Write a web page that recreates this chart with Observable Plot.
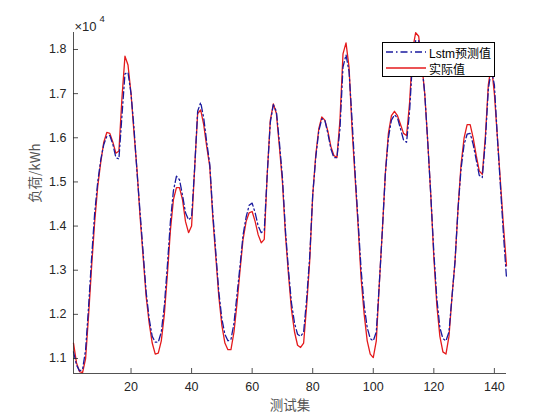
<!DOCTYPE html>
<html><head><meta charset="utf-8">
<script src="https://cdn.jsdelivr.net/npm/d3@7"></script>
<script src="https://cdn.jsdelivr.net/npm/@observablehq/plot@0.6"></script>
<style>
body{margin:0;background:#fff;}
#wrap{position:relative;width:560px;height:420px;}
#legend{position:absolute;left:382px;top:42px;width:111px;height:33px;border:1px solid #000;background:#fff;font-family:"Liberation Sans","Noto Sans CJK SC",sans-serif;font-size:12px;color:#000;white-space:nowrap;}
#legend .row{position:absolute;left:3px;height:16px;display:flex;align-items:center;white-space:nowrap;}
#legend svg{margin-right:3px;flex:none;}
</style></head>
<body><div id="wrap"><div id="legend"></div></div>
<script>
const seriesNames = ["Lstm预测值", "实际值"];
const actual = [
1.135,1.090,1.070,1.068,1.100,1.200,1.310,1.410,1.490,1.545,
1.590,1.612,1.610,1.590,1.565,1.570,1.690,1.785,1.765,1.700,
1.610,1.525,1.420,1.330,1.240,1.180,1.135,1.110,1.112,1.140,
1.200,1.290,1.390,1.460,1.487,1.487,1.460,1.410,1.385,1.400,
1.530,1.655,1.663,1.630,1.580,1.535,1.420,1.330,1.240,1.175,
1.135,1.120,1.120,1.160,1.225,1.300,1.370,1.410,1.430,1.433,
1.410,1.380,1.362,1.370,1.520,1.640,1.677,1.655,1.580,1.500,
1.380,1.290,1.210,1.160,1.130,1.125,1.135,1.220,1.320,1.470,
1.560,1.620,1.647,1.640,1.615,1.580,1.560,1.555,1.640,1.790,
1.815,1.760,1.620,1.510,1.400,1.280,1.200,1.140,1.110,1.102,
1.140,1.270,1.390,1.520,1.610,1.650,1.660,1.650,1.630,1.610,
1.605,1.680,1.800,1.838,1.830,1.770,1.700,1.590,1.470,1.330,
1.220,1.150,1.115,1.110,1.150,1.240,1.320,1.440,1.540,1.600,
1.630,1.630,1.600,1.560,1.525,1.517,1.600,1.720,1.765,1.700,
1.600,1.500,1.400,1.310
];
const predicted = [
1.115,1.085,1.072,1.075,1.120,1.220,1.330,1.430,1.500,1.550,
1.585,1.603,1.605,1.585,1.555,1.552,1.650,1.745,1.748,1.700,
1.620,1.520,1.430,1.340,1.250,1.190,1.150,1.137,1.137,1.160,
1.220,1.310,1.410,1.480,1.513,1.505,1.470,1.430,1.414,1.420,
1.530,1.660,1.680,1.645,1.590,1.540,1.430,1.340,1.250,1.190,
1.155,1.140,1.143,1.180,1.245,1.310,1.380,1.420,1.447,1.452,
1.430,1.400,1.385,1.390,1.520,1.635,1.675,1.660,1.590,1.510,
1.390,1.300,1.225,1.180,1.155,1.150,1.160,1.235,1.330,1.470,
1.555,1.615,1.643,1.640,1.610,1.575,1.555,1.555,1.620,1.760,
1.788,1.750,1.640,1.520,1.410,1.300,1.220,1.170,1.145,1.140,
1.160,1.270,1.390,1.520,1.600,1.640,1.652,1.645,1.620,1.595,
1.590,1.660,1.780,1.820,1.820,1.770,1.700,1.590,1.470,1.340,
1.235,1.170,1.145,1.140,1.160,1.240,1.320,1.440,1.530,1.585,
1.608,1.610,1.585,1.550,1.515,1.510,1.590,1.710,1.755,1.720,
1.600,1.490,1.380,1.283
];
const xTicks = [20, 40, 60, 80, 100, 120, 140];
const yTicks = [11000, 12000, 13000, 14000, 15000, 16000, 17000, 18000];
const yTickLabels = ["1.1","1.2","1.3","1.4","1.5","1.6","1.7","1.8"];
const xLabel = "测试集";
const yLabel = "负荷/kWh";
const expLabel = "×10";
const expPower = "4";

const rows = actual.map((v, i) => ({x: i + 1, y: v * 10000, s: seriesNames[1]}));
const predRows = predicted.map((v, i) => ({x: i + 1, y: v * 10000, s: seriesNames[0]}));

const W = 560, H = 420, mL = 73, mR = 54, mT = 32, mB = 47;
const innerW = W - mL - mR, innerH = H - mT - mB;
const axisColor = "#262626";
const font = "'Liberation Sans', Arial, 'Noto Sans CJK SC', sans-serif";
const dash = "7,3,1.5,3";

const chart = Plot.plot({
  width: W, height: H,
  marginLeft: mL, marginRight: mR, marginTop: mT, marginBottom: mB,
  style: {fontFamily: font, fontSize: "12px", color: axisColor, background: "#fff"},
  x: {domain: [1, 144]},
  y: {domain: [10660, 18385]},
  marks: [
    Plot.lineY(rows, {x: "x", y: "y", stroke: "#e41a1c", strokeWidth: 1.3}),
    Plot.lineY(predRows, {x: "x", y: "y", stroke: "#1a1a9e", strokeWidth: 1.3, strokeDasharray: dash}),
    Plot.ruleX([1], {stroke: axisColor, strokeWidth: 0.8}),
    Plot.ruleY([10660], {stroke: axisColor, strokeWidth: 0.8}),
    Plot.tickY(yTicks, {y: d => d, stroke: axisColor, strokeWidth: 0.8, insetRight: innerW - 5}),
    Plot.tickX(xTicks, {x: d => d, stroke: axisColor, strokeWidth: 0.8, insetTop: innerH - 5}),
    Plot.axisY(yTicks, {tickSize: 0, tickPadding: 7, tickFormat: (d, i) => yTickLabels[i], fill: axisColor, fontSize: 12.5, label: null}),
    Plot.axisX(xTicks, {tickSize: 0, tickPadding: 9, fill: axisColor, fontSize: 12.5, label: null}),
    Plot.text([expLabel], {frameAnchor: "top-left", dx: 1, dy: -11, text: d => d, textAnchor: "start", fill: axisColor, fontSize: 13}),
    Plot.text([expPower], {frameAnchor: "top-left", dx: 26, dy: -17, text: d => d, textAnchor: "start", fill: axisColor, fontSize: 9.5}),
    Plot.text([xLabel], {frameAnchor: "bottom", dy: 36, text: d => d, fill: "#555", fontSize: 13.5, fontFamily: "'Noto Sans CJK SC', sans-serif"}),
    Plot.text([yLabel], {frameAnchor: "left", dx: -38, rotate: -90, text: d => d, fill: "#555", fontSize: 13.5, fontFamily: "'Noto Sans CJK SC', sans-serif"})
  ]
});
const wrap = document.getElementById("wrap");
wrap.insertBefore(chart, wrap.firstChild);

const legend = document.getElementById("legend");
legend.innerHTML =
  `<div class="row" style="top:1px"><svg width="40" height="6"><line x1="0" y1="3" x2="40" y2="3" stroke="#1a1a9e" stroke-width="1.3" stroke-dasharray="${dash}"/></svg>${seriesNames[0]}</div>` +
  `<div class="row" style="top:17px"><svg width="40" height="6"><line x1="0" y1="3" x2="40" y2="3" stroke="#e41a1c" stroke-width="1.3"/></svg>${seriesNames[1]}</div>`;
</script></body></html>
